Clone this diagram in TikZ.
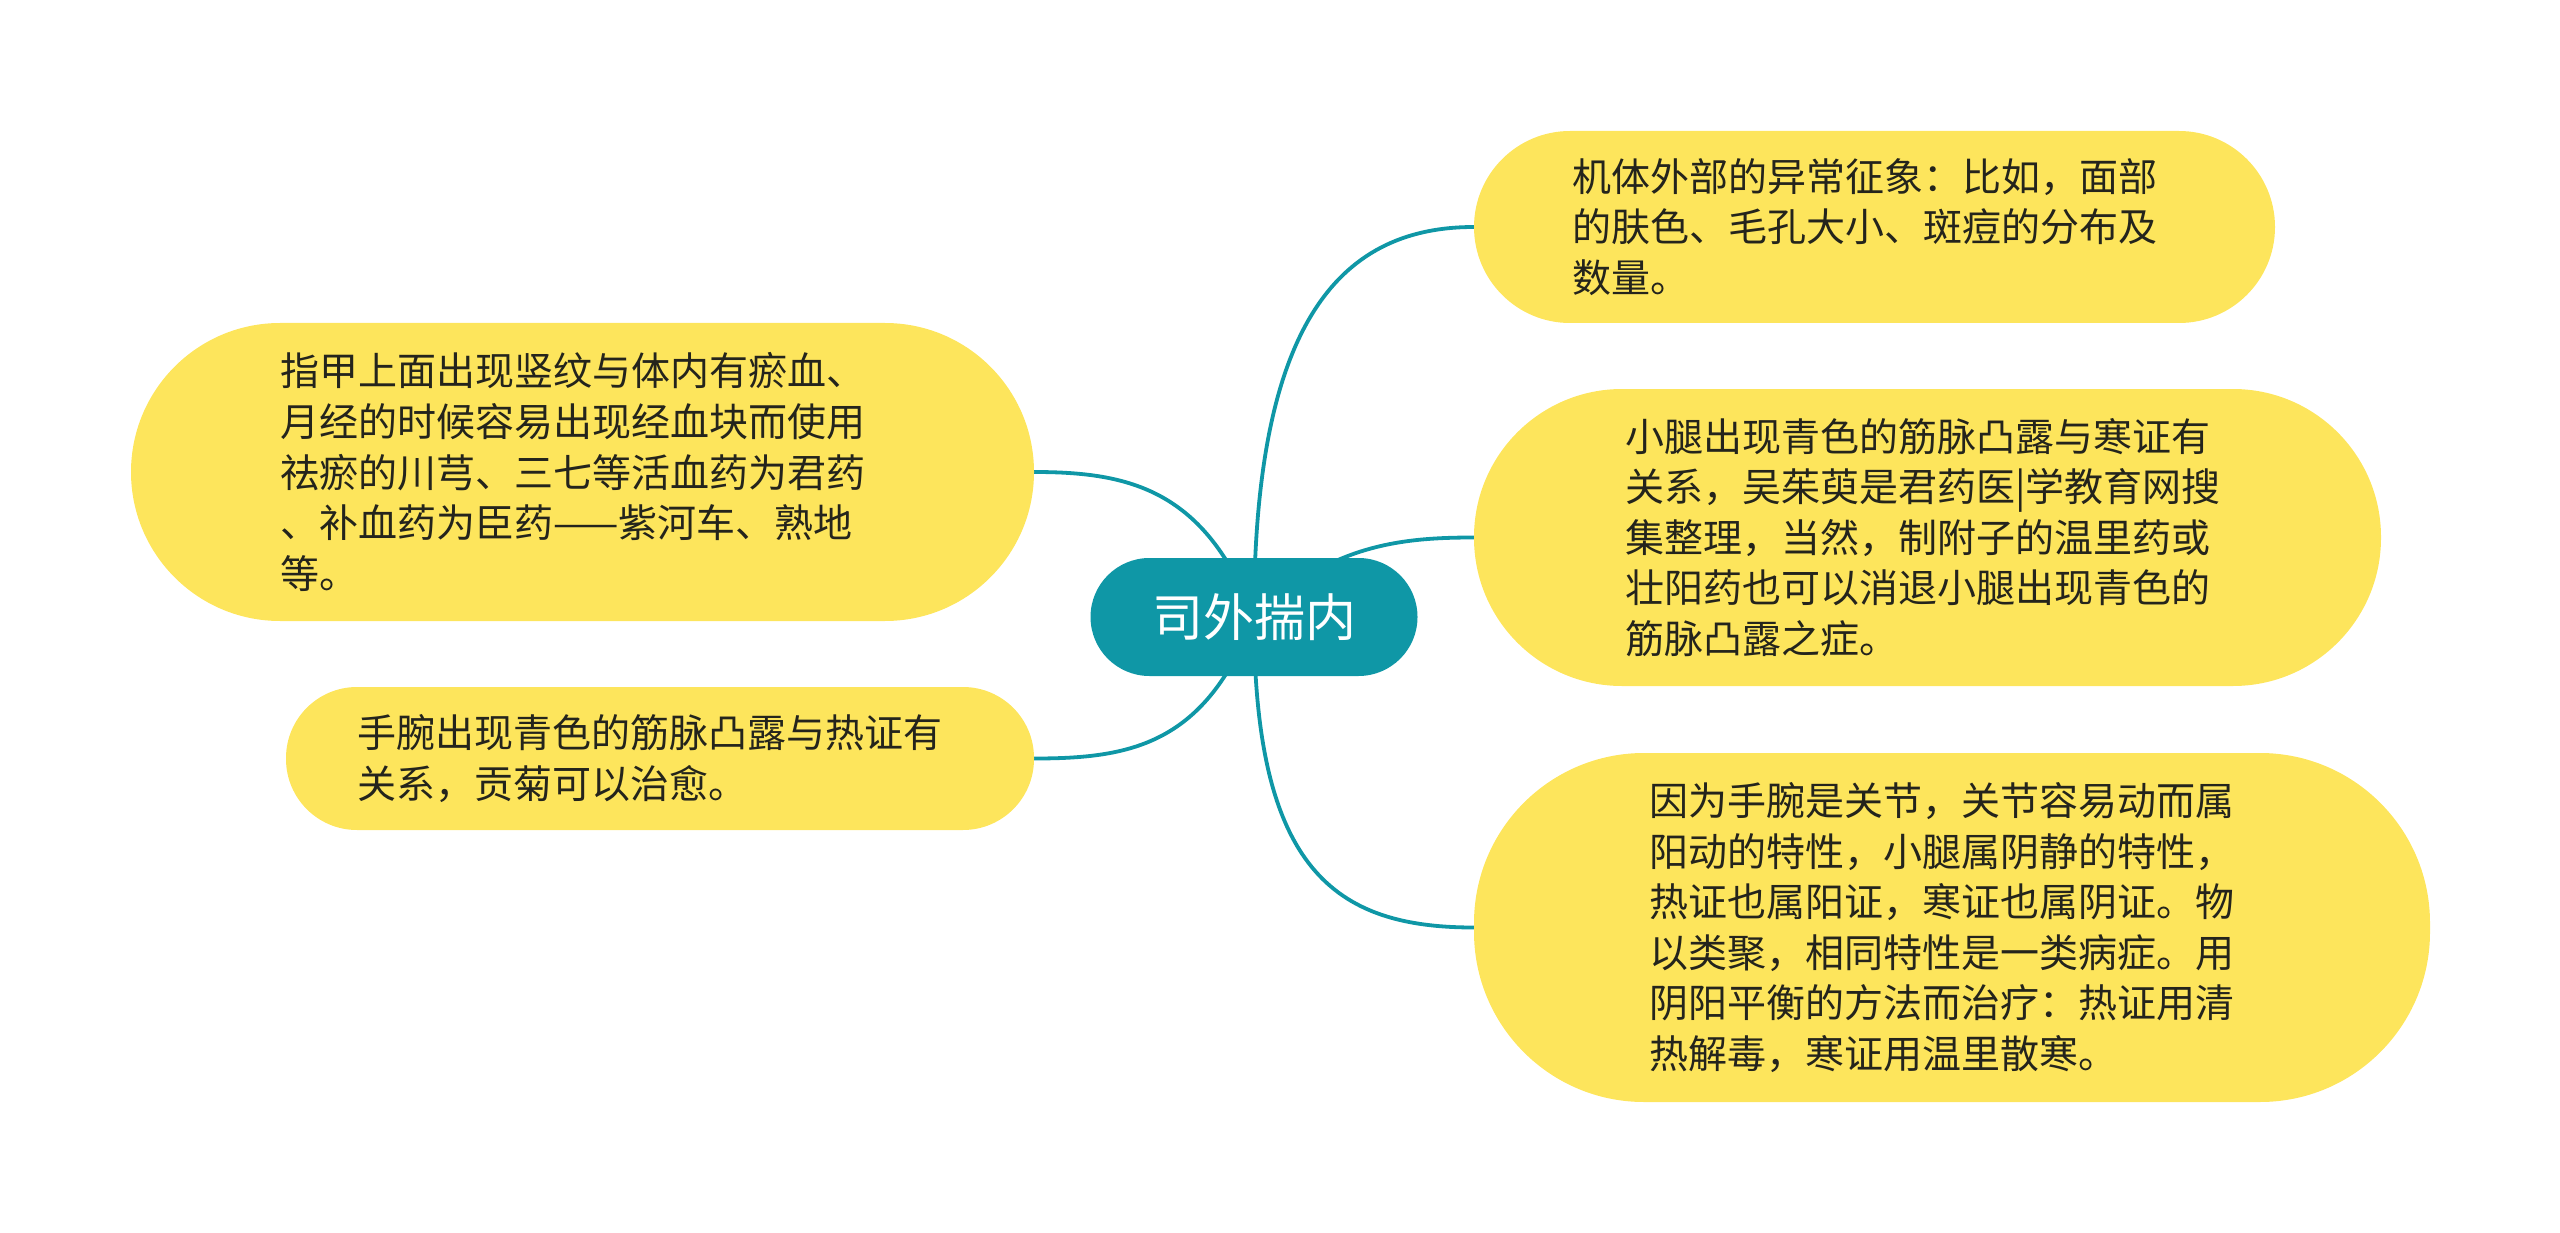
\documentclass[tikz,border=0pt]{standalone}
\usepackage{fontspec}
\setmainfont{Noto Sans CJK SC}
\usetikzlibrary{backgrounds}
\definecolor{tealc}{HTML}{0F97A6}
\definecolor{yel}{HTML}{FDE55C}
\definecolor{txt}{HTML}{24241C}
\tikzset{
  leaf/.style={fill=yel, draw=none, inner sep=0pt, align=left, text=txt,
    text width=605pt, font=\fontsize{39}{50.6}\selectfont},
  root/.style={fill=tealc, draw=none, inner sep=0pt, text=white,
    minimum width=327pt, minimum height=118pt, rounded corners=59pt,
    font=\fontsize{51}{60}\selectfont},
  link/.style={draw=tealc, line width=3.8pt}
}
\begin{document}
\begin{tikzpicture}[x=1pt,y=-1pt]
\useasboundingbox (0,0) rectangle (2560,1233);
\node[root] (c) at (1254,617) {司外揣内};
\node[leaf, minimum width=801pt, minimum height=192pt, rounded corners=96pt] (r1) at (1874.5,227)
  {机体外部的异常征象：比如，面部\\的肤色、毛孔大小、斑痘的分布及\\数量。};
\node[leaf, minimum width=907pt, minimum height=297pt, rounded corners=148pt] (r2) at (1927.5,537.5)
  {小腿出现青色的筋脉凸露与寒证有\\关系，吴茱萸是君药医|学教育网搜\\集整理，当然，制附子的温里药或\\壮阳药也可以消退小腿出现青色的\\筋脉凸露之症。};
\node[leaf, minimum width=956pt, minimum height=349pt, rounded corners=170pt] (r3) at (1952,927.5)
  {因为手腕是关节，关节容易动而属\\阳动的特性，小腿属阴静的特性，\\热证也属阳证，寒证也属阴证。物\\以类聚，相同特性是一类病症。用\\阴阳平衡的方法而治疗：热证用清\\热解毒，寒证用温里散寒。};
\node[leaf, minimum width=903pt, minimum height=298pt, rounded corners=149pt] (l1) at (582.5,472)
  {指甲上面出现竖纹与体内有瘀血、\\月经的时候容易出现经血块而使用\\祛瘀的川芎、三七等活血药为君药\\、补血药为臣药——紫河车、熟地\\等。};
\node[leaf, minimum width=748pt, minimum height=143pt, rounded corners=71pt] (l2) at (660,758.5)
  {手腕出现青色的筋脉凸露与热证有\\关系，贡菊可以治愈。};
\begin{scope}[on background layer]
\draw[link] (c.center) .. controls (1254,330) and (1335,227) .. (r1.west);
\draw[link] (c.center) .. controls (1330,545) and (1400,537.5) .. (r2.west);
\draw[link] (c.center) .. controls (1254,870) and (1335,927.5) .. (r3.west);
\draw[link] (c.center) .. controls (1205,490) and (1130,472) .. (l1.east);
\draw[link] (c.center) .. controls (1205,745) and (1130,758.5) .. (l2.east);
\end{scope}
\end{tikzpicture}
\end{document}
